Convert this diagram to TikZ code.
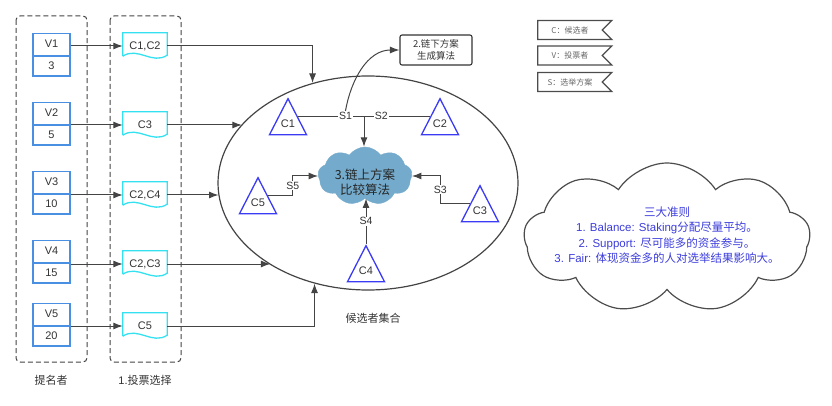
\documentclass[tikz,border=0pt]{standalone}
\usepackage{fontspec}
\setmainfont{Liberation Sans}
\newfontfamily\cjk{Noto Sans CJK SC}
\usepackage{tikz}
\usetikzlibrary{shapes.geometric}
\usetikzlibrary{shapes.symbols}
\usetikzlibrary{shapes.multipart}
\usetikzlibrary{arrows.meta}

\definecolor{vblue}{HTML}{4A90E2}
\definecolor{doccyan}{HTML}{33E1F0}
\definecolor{triblue}{HTML}{3B3BF5}
\definecolor{textblue}{HTML}{3C3CDC}
\definecolor{linegray}{HTML}{444444}
\definecolor{textgray}{HTML}{333333}
\definecolor{cloudblue}{HTML}{74AACB}

\begin{document}
\begin{tikzpicture}[x=1pt,y=-1pt,>={Latex[length=9.5pt,width=7pt]},
  every node/.style={font=\fontsize{11}{13}\selectfont, text=textgray},
  group/.style={draw=linegray, line width=1pt, dash pattern=on 5pt off 3pt, rounded corners=4pt},
  vbox/.style={rectangle split, rectangle split parts=2, draw=vblue, line width=1.4pt,
    minimum width=37pt, text height=8pt, text depth=2pt, inner ysep=5.5pt, inner xsep=2pt},
  doc/.style={minimum width=44pt, minimum height=26pt, inner sep=0pt},
  docline/.style={draw=doccyan, line width=1.3pt},
  arr/.style={->, draw=linegray, line width=1pt},
  conn/.style={draw=linegray, line width=1pt},
  tri/.style={isosceles triangle, isosceles triangle stretches, shape border rotate=90,
    draw=triblue, line width=1.3pt, minimum width=37pt, minimum height=36pt,
    inner sep=0pt, anchor=apex},
  lab/.style={fill=white, inner sep=1pt, font=\fontsize{10.5}{12}\selectfont},
  selbox/.style={draw=textgray, line width=1.1pt, rounded corners=2pt, minimum width=72pt,
    minimum height=30pt, align=center, font=\cjk\fontsize{9.5}{12}\selectfont},
  tag/.style={signal, signal from=east, signal to=nowhere, draw=black!70, line width=1.3pt,
    minimum width=74pt, minimum height=19pt, inner sep=0pt,
    font=\cjk\fontsize{8}{9}\selectfont, text=black!60},
  algcloud/.style={cloud, cloud puffs=9, cloud puff arc=110, cloud ignores aspect,
    fill=cloudblue, draw=cloudblue, minimum width=94pt, minimum height=58pt, inner sep=0pt},
  rulecloud/.style={cloud, cloud puffs=9, cloud puff arc=115, cloud ignores aspect, draw=black!70,
    line width=1.2pt, minimum width=286pt, minimum height=150pt, inner sep=0pt}]
\useasboundingbox (0,0) rectangle (832,406);

% groups
\draw[group] (16,16) rectangle (87,362);
\draw[group] (110,16) rectangle (181,362);
\node (nominee) at (51,380) {\cjk 提名者};
\node (votes) at (145,380) {1.{\cjk 投票选择}};

% voters and their choices
\foreach \i/\w/\y in {1/3/56, 2/5/125, 3/10/194, 4/15/263, 5/20/326}
  \node[vbox, anchor=text split] (v\i) at (51.5,\y) {V\i \nodepart{two} \w};
\foreach \i/\c/\y in {1/{C1,C2}/46, 2/C3/125, 3/{C2,C4}/195, 4/{C2,C3}/264, 5/C5/326}
  \node[doc] (d\i) at (145,\y) {\c};
\foreach \i in {1,...,5} {
  \draw[docline] ([yshift=3pt]d\i.south west) -- (d\i.north west) -- (d\i.north east)
    -- ([yshift=4pt]d\i.south east) .. controls +(-15,10) and +(15,-10) .. ([yshift=3pt]d\i.south west);
  \draw[arr] (v\i.east |- d\i.west) -- (d\i.west);
}

% candidate pool
\node[ellipse, draw=linegray, line width=1.2pt, minimum width=300pt, minimum height=214pt,
  inner sep=0pt] (pool) at (368,183) {};
\node (poolname) at (373,318) {\cjk 候选者集合};

\draw[arr] (d1.east) -| (pool.119);
\draw[arr] (d2.east) -- (d2.east -| pool.155);
\draw[arr] (d3.east) -- (d3.east -| pool.185);
\draw[arr] (d4.east) -- (d4.east -| pool.220);
\draw[arr] (d5.east) -| (pool.242);

% candidates
\node[tri, label={[anchor=center,yshift=12pt]south:C1}] (c1) at (288,97) {};
\node[tri, label={[anchor=center,yshift=12pt]south:C2}] (c2) at (440,97) {};
\node[tri, label={[anchor=center,yshift=12pt]south:C3}] (c3) at (480,184) {};
\node[tri, label={[anchor=center,yshift=12pt]south:C4}] (c4) at (366,244) {};
\node[tri, label={[anchor=center,yshift=12pt]south:C5}] (c5) at (258,176) {};

% on-chain comparison
\node[algcloud] (alg) at (365,176) {};
\node[font=\cjk\fontsize{12.5}{15}\selectfont, text=black!85, align=center] (algtext)
  at (365,182) {3.链上方案\\比较算法};

% off-chain generation
\node[selbox] (sel) at (436,50) {2.链下方案\\生成算法};

\draw[conn] (c1.right side) -- node[lab, pos=0.36] (s1) {S1} coordinate[pos=0.5] (mid)
  node[lab, pos=0.63] (s2) {S2} (c2.left side);
\draw[arr] (mid) -- (mid |- alg.north);
\draw[arr] (s1.north) to[out=80,in=180] (sel.west);
\draw[arr] (c5.right side) -- ++(25,0) |- node[lab, pos=0.25] (s5) {S5} (alg.west);
\draw[arr] (c3.left side) -- ++(-30,0) |- node[lab, pos=0.25] (s3) {S3} (alg.east);
\draw[arr] (c4.apex) -- node[lab] (s4) {S4} (c4.apex |- alg.south);

% legend
\node[tag] (legc) at (570,30) {C：候选者};
\node[tag] (legv) at (570,55.5) {V：投票者};
\node[tag] (legs) at (570,82) {S：选举方案};

% three rules
\node[rulecloud] (rules) at (667,238) {};
\node[font=\fontsize{11.5}{15.5}\selectfont, text=textblue, align=center] (rulestext)
  at (667,235) {{\cjk 三大准则}\\1. Balance: Staking{\cjk 分配尽量平均。}\\
  2. Support: {\cjk 尽可能多的资金参与。}\\3. Fair: {\cjk 体现资金多的人对选举结果影响大。}};
\end{tikzpicture}
\end{document}
